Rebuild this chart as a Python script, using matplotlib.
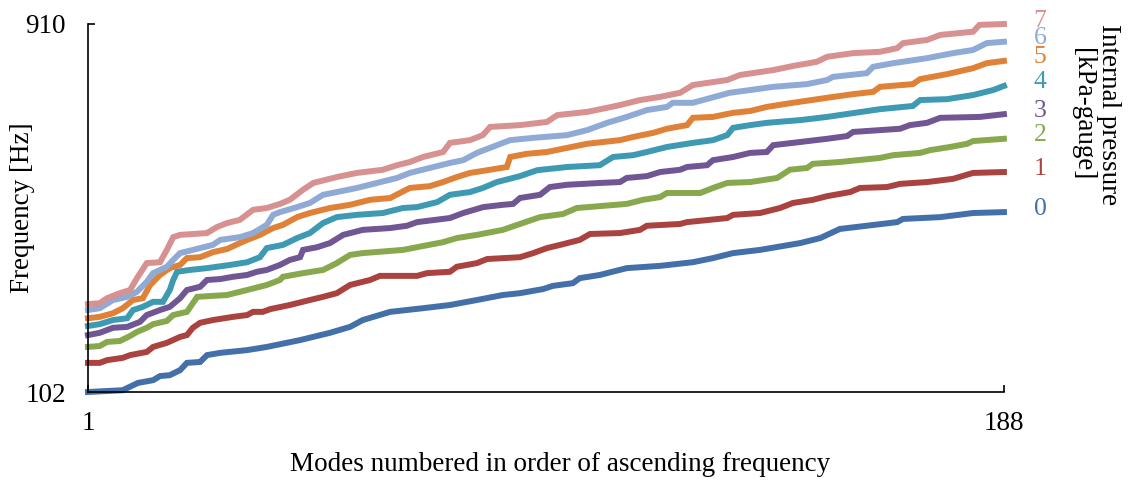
import matplotlib
matplotlib.use("Agg")
import matplotlib.pyplot as plt

plt.rcParams['font.family'] = ['Liberation Serif', 'DejaVu Serif']

# pressure levels [kPa-gauge]
pressures = ["0", "1", "2", "3", "4", "5", "6", "7"]
colors = ['#4470AA', '#AA4340', '#87A84C', '#705693',
          '#3E9AB3', '#DF8136', '#90AAD6', '#D69190']

# mode number / frequency [Hz]
modes_0 = [1, 8.1, 11.2, 14.3, 15.7, 17.7, 19.8, 21.2, 23.9, 25.3, 28, 33.5, 37.5, 44.3, 50.4,
           54.5, 57.1, 62.7, 69.4, 74.9, 80.4, 85.7, 89.2, 93.9, 95.9, 100, 101.4, 105.5, 111,
           117.8, 124.5, 128.6, 132.7, 138.2, 146.4, 150.5, 154.5, 166.2, 167.4, 175, 181.7, 188]
freq_0 = [102, 106, 122, 128, 137, 139, 150, 166, 168, 183, 188, 194, 201, 216, 232,
          245, 260, 278, 286, 293, 304, 315, 319, 328, 335, 341, 352, 359, 374,
          379, 387, 396, 407, 414, 429, 440, 460, 475, 482, 486, 495, 497]

modes_1 = [1, 3.4, 4.9, 8.1, 9.6, 13, 14.3, 17.1, 19.8, 21.2, 22.4, 23.9, 26.5, 30.6, 33.5,
           34.7, 36.7, 38.2, 42.2, 46.3, 49, 51.8, 54.5, 58.6, 60.6, 68.2, 70.2, 74.9, 76.3,
           80.4, 82.5, 89.2, 91.9, 94.7, 97.4, 101.4, 103.5, 109.6, 113.7, 115.1, 121.9, 123.3,
           131.5, 132.7, 138.2, 142.3, 144.9, 149, 151.9, 156.6, 158.6, 164.1, 166.8, 172.3,
           177.6, 181.7, 188]
freq_1 = [166, 166, 172, 177, 183, 190, 201, 210, 223, 227, 243, 254, 260, 267, 271,
          278, 278, 284, 293, 304, 311, 319, 337, 348, 357, 357, 363, 366, 377,
          385, 394, 398, 407, 418, 425, 436, 449, 451, 458, 467, 471, 475,
          484, 491, 495, 506, 517, 524, 532, 541, 550, 552, 559, 563,
          570, 583, 585]

modes_2 = [1, 3.4, 4.9, 7.5, 9.6, 11, 13, 14.3, 17.1, 18.4, 21.2, 23.3, 29.4, 33.5, 37.5,
           40.2, 40.8, 44.9, 49, 51.8, 54.5, 57.1, 65.3, 68.2, 73.5, 76.3, 80.4, 85.7, 89.2,
           93.3, 98, 100.8, 111, 114.3, 117.8, 119.2, 126, 128.6, 131.5, 136.2, 141.7, 144.3,
           147.8, 149, 154.5, 162.7, 165.4, 170.9, 172.9, 177, 180.5, 181.7, 188]
freq_2 = [201, 203, 212, 214, 225, 234, 243, 251, 258, 271, 278, 311, 315, 326, 337,
          348, 355, 363, 370, 385, 403, 407, 414, 420, 431, 440, 447, 458, 471,
          486, 493, 506, 515, 524, 530, 539, 539, 550, 561, 563, 572, 590,
          594, 603, 607, 616, 622, 627, 633, 640, 647, 653, 658]

modes_3 = [1, 3.4, 6.1, 9, 11.6, 13, 15.7, 17.7, 19.8, 21.2, 23.9, 25.3, 28, 30.6, 33.5,
           35.5, 37.5, 40.2, 42.2, 44.3, 44.9, 47.8, 50.4, 53.1, 57.1, 62.7, 66.1, 68.2, 74.9,
           77.6, 81.7, 85.7, 87.8, 89.2, 93.3, 95.3, 98.8, 105.5, 109.6, 111, 115.1, 117.8,
           121.9, 123.3, 127.4, 128.6, 132.7, 136.2, 139.6, 140.9, 144.9, 151.9, 156, 157.2,
           166.8, 168.8, 172.3, 175, 183.1, 188]
freq_3 = [227, 232, 243, 245, 256, 271, 282, 289, 308, 326, 333, 348, 350, 355, 359,
          366, 370, 381, 392, 398, 414, 420, 429, 447, 458, 462, 467, 475, 484,
          495, 508, 513, 515, 528, 535, 552, 557, 561, 563, 572, 576, 585,
          590, 596, 600, 611, 618, 627, 629, 644, 649, 658, 664, 673,
          680, 688, 693, 704, 706, 712]

modes_4 = [1, 3.4, 6.1, 9, 10.2, 12.2, 14.3, 16.3, 17.7, 18.4, 19.2, 21.8, 25.3, 30, 33.5,
           36.1, 37.5, 40.8, 43.7, 46.3, 49, 51.8, 55.9, 61.2, 65.3, 68.2, 72.3, 74.9, 79,
           81.6, 84.5, 89.2, 92.7, 98.8, 105.5, 108.2, 112.3, 115.1, 119.2, 124.5, 128.6,
           131.5, 132.7, 136.2, 139.6, 146.4, 151.9, 162.7, 169.4, 170.9, 176.4, 181.7,
           185.8, 188]
freq_4 = [247, 251, 260, 264, 282, 289, 300, 300, 326, 348, 366, 370, 374, 381, 387,
          398, 418, 425, 440, 451, 473, 486, 491, 495, 506, 508, 519, 535, 541,
          550, 563, 576, 589, 596, 600, 618, 622, 629, 640, 649, 655,
          666, 682, 688, 693, 699, 706, 723, 730, 743, 745, 754,
          765, 774]

modes_5 = [1, 3.4, 6.1, 8.1, 10.2, 12.2, 13.7, 15.7, 17.7, 19.8, 21.2, 23.9, 26.5, 29.4, 32,
           33.5, 36.1, 38.8, 40.8, 43.7, 46.3, 50.4, 54.5, 58.6, 62.7, 66.7, 70.8, 73.5, 76.3,
           79, 83.1, 86.5, 87.2, 90.6, 94.7, 98.8, 102.9, 109.6, 112.3, 116.4, 119.2, 123.3,
           124.5, 128.6, 132.7, 136.2, 139.6, 144.9, 151.9, 157.2, 161.3, 162.7, 169.4, 170.9,
           176.4, 181.7, 184.5, 188]
freq_5 = [264, 267, 275, 286, 304, 308, 337, 359, 374, 381, 396, 398, 409, 416, 429,
          436, 447, 462, 469, 486, 495, 506, 513, 524, 528, 550, 554, 563, 574,
          583, 590, 596, 618, 625, 629, 638, 647, 655, 662, 671, 680, 688,
          704, 706, 715, 719, 728, 737, 748, 756, 761, 772, 778, 789,
          800, 813, 824, 829]

modes_6 = [1, 3.4, 6.1, 9, 11, 13, 14.3, 17.1, 18.4, 19.8, 23.9, 26.5, 28, 32, 34.7,
           37.5, 38.8, 40.2, 43.7, 46.3, 49, 51.8, 55.9, 60, 64.1, 66.7, 70.8, 74.9, 77.6,
           80.4, 84.5, 87.2, 91.9, 98.8, 102.9, 107, 111, 115.1, 119.2, 120.4, 124.5, 132,
           136.2, 140.9, 147.8, 151.9, 153.1, 160, 161.3, 165.4, 172.3, 177.6, 181.7, 184.5,
           188]
freq_6 = [282, 286, 304, 311, 322, 344, 363, 377, 392, 407, 418, 425, 436, 442, 451,
          469, 491, 497, 508, 517, 535, 541, 550, 561, 572, 583, 594, 605, 611,
          627, 644, 655, 660, 666, 677, 693, 706, 721, 728, 737, 737, 759,
          765, 772, 778, 787, 794, 802, 816, 824, 835, 846, 853, 868,
          871]

modes_7 = [1, 3.4, 4.9, 7.5, 9.6, 11, 13, 15.7, 17.1, 18.4, 19.8, 25.3, 27.3, 29.4, 32,
           34.7, 37.5, 40.2, 42.2, 44.9, 47, 51.8, 55.9, 61.2, 64.1, 66.7, 69.4, 73.5, 74.9,
           79, 81.6, 83.1, 89.2, 94.7, 96.8, 102.9, 107, 109.6, 113.7, 117.8, 121.9, 124.5,
           131.5, 134.1, 141, 145, 149.8, 151.9, 157.2, 162.7, 166.2, 167.4, 172.3, 175,
           181.7, 183, 188]
freq_7 = [295, 297, 308, 319, 326, 352, 385, 387, 414, 442, 447, 451, 464, 473, 480,
          502, 506, 515, 524, 546, 561, 574, 583, 590, 600, 607, 618, 629, 649,
          655, 666, 684, 688, 695, 710, 717, 726, 732, 743, 750, 759, 776,
          787, 798, 809, 818, 827, 838, 846, 849, 857, 868, 875, 886,
          893, 908, 910]

all_modes = [modes_0, modes_1, modes_2, modes_3, modes_4, modes_5, modes_6, modes_7]
all_freqs = [freq_0, freq_1, freq_2, freq_3, freq_4, freq_5, freq_6, freq_7]

fig = plt.figure(figsize=(11.28, 4.8), dpi=100)
ax = fig.add_axes([0.078, 0.1833, 0.812, 0.7667])

for m, f, c in zip(all_modes, all_freqs, colors):
    ax.plot(m, f, color=c, lw=4.3, solid_joinstyle='miter', clip_on=False)

# pressure labels at the end of each curve
for p, f, c in zip(pressures, all_freqs, colors):
    ax.annotate(p, xy=(188, f[-1]), xytext=(26, 2.5), textcoords='offset points',
                color=c, fontsize=18.5, ha='center', va='center', annotation_clip=False)

ax.set_xlim(1, 188)
ax.set_ylim(102, 910)
ax.set_xticks([1, 188])
ax.set_yticks([102, 910])
ax.tick_params(direction='in', length=5, width=1.2, labelsize=19.5)
ax.tick_params(axis='x', pad=14)
ax.tick_params(axis='y', pad=16)
for s in ['top', 'right']:
    ax.spines[s].set_visible(False)
for s in ['left', 'bottom']:
    ax.spines[s].set_linewidth(1.2)

ax.set_xlabel('Modes numbered in order of ascending frequency', fontsize=19.5)
ax.xaxis.set_label_coords(0.516, -0.163)
ax.set_ylabel('Frequency [Hz]', fontsize=19.5)
ax.yaxis.set_label_coords(-0.058, 0.5)

fig.text(0.971, 0.762, 'Internal pressure\n[kPa-gauge]', rotation=270,
         fontsize=19.5, ha='center', va='center', multialignment='center',
         linespacing=1.05)

fig.savefig('out.png', dpi=100)
